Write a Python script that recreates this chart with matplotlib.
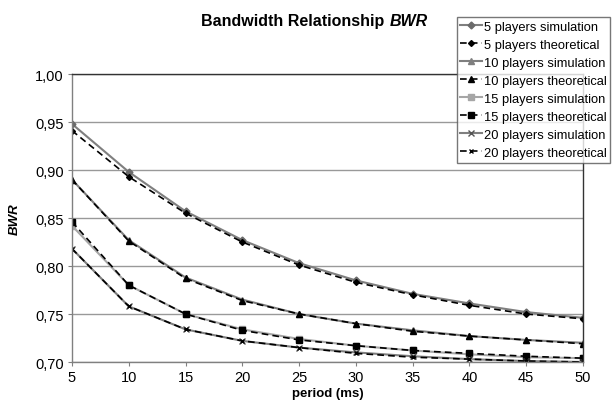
import numpy as np
import matplotlib.pyplot as plt

plt.rcParams['font.family'] = ['Liberation Sans', 'DejaVu Sans']

# periodo (ms)
period = [5, 10, 15, 20, 25, 30, 35, 40, 45, 50]

# BWR simulado / teorico por numero de jugadores
sim5 = [0.948, 0.898, 0.857, 0.827, 0.803, 0.785, 0.771, 0.761, 0.752, 0.746]
teo5 = [0.941, 0.893, 0.855, 0.825, 0.801, 0.783, 0.770, 0.759, 0.750, 0.745]
sim10 = [0.890, 0.827, 0.788, 0.765, 0.750, 0.740, 0.733, 0.727, 0.723, 0.720]
teo10 = [0.890, 0.826, 0.787, 0.764, 0.750, 0.740, 0.732, 0.727, 0.723, 0.719]
sim15 = [0.842, 0.780, 0.750, 0.734, 0.724, 0.717, 0.712, 0.708, 0.705, 0.704]
teo15 = [0.846, 0.780, 0.750, 0.733, 0.723, 0.717, 0.712, 0.709, 0.706, 0.704]
sim20 = [0.818, 0.758, 0.734, 0.722, 0.715, 0.710, 0.706, 0.703, 0.701, 0.700]
teo20 = [0.818, 0.758, 0.734, 0.722, 0.715, 0.709, 0.705, 0.703, 0.701, 0.700]

yticks = [0.70, 0.75, 0.80, 0.85, 0.90, 0.95, 1.00]

fig = plt.figure(figsize=(6.12, 4.02), dpi=100)
ax = fig.add_axes([0.1176, 0.097, 0.835, 0.7164])

series = [
    ('5 players simulation', sim5, '#7f7f7f', '-', 'D', '#6a6a6a', 3.5),
    ('5 players theoretical', teo5, 'black', '--', 'D', 'black', 3),
    ('10 players simulation', sim10, '#7f7f7f', '-', '^', '#7f7f7f', 5),
    ('10 players theoretical', teo10, 'black', '--', '^', 'black', 4.5),
    ('15 players simulation', sim15, '#a6a6a6', '-', 's', '#a6a6a6', 5),
    ('15 players theoretical', teo15, 'black', '--', 's', 'black', 4.5),
    ('20 players simulation', sim20, '#7f7f7f', '-', 'x', '#555555', 5),
    ('20 players theoretical', teo20, 'black', '--', 'x', 'black', 3.5),
]

for lab, vals, col, ls, mk, mcol, ms in series:
    ax.plot(period, vals, color=col, linestyle=ls, linewidth=1.5 if ls == '-' else 1.2,
            marker=mk, markersize=ms, markerfacecolor=mcol, markeredgecolor=mcol,
            markeredgewidth=1.0, label=lab, dashes=(4, 2.5) if ls == '--' else (None, None))

ax.set_xlim(5, 50)
ax.set_ylim(0.70, 1.00)
ax.set_xticks(period)
ax.set_yticks(yticks)
ax.set_yticklabels([f'{v:.2f}'.replace('.', ',') for v in yticks])
ax.grid(axis='y', color='#999999', linewidth=1)
ax.set_axisbelow(True)

for s in ['left', 'bottom']:
    ax.spines[s].set_color('#808080')
for s in ['top', 'right']:
    ax.spines[s].set_color('#333333')
for s in ax.spines.values():
    s.set_linewidth(1)
ax.tick_params(axis='both', direction='out', length=3, color='#808080',
               labelsize=10.5, pad=3)

ax.set_xlabel('period (ms)', fontsize=9.5, fontweight='bold', labelpad=2)
ax.set_ylabel('BWR', fontsize=9.5, fontweight='bold', fontstyle='italic', labelpad=10)

# titulo en dos partes (BWR en cursiva)
fig.text(0.628, 0.947, 'Bandwidth Relationship', ha='right', va='center',
         fontsize=11.5, fontweight='bold')
fig.text(0.637, 0.947, 'BWR', ha='left', va='center',
         fontsize=11.5, fontweight='bold', fontstyle='italic')

leg = fig.legend(loc='upper left', bbox_to_anchor=(0.746, 0.955), fontsize=9.3,
                 frameon=True, fancybox=False, handlelength=1.7, handletextpad=0.1,
                 borderpad=0.3, labelspacing=0.46, borderaxespad=0)
leg.get_frame().set_edgecolor('#555555')
leg.get_frame().set_linewidth(1)

fig.savefig('out.png', dpi=100)
